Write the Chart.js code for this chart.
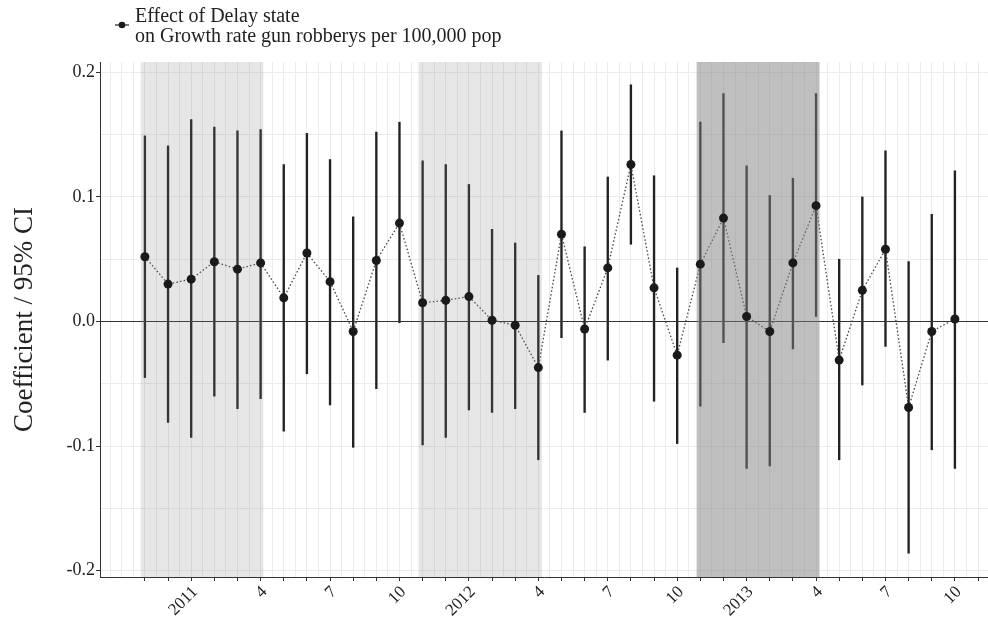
<!DOCTYPE html>
<html>
<head>
<meta charset="utf-8">
<script src="https://cdn.jsdelivr.net/npm/chart.js@4.4.1/dist/chart.umd.min.js"></script>
<style>
  html, body { margin: 0; padding: 0; background: #fff; overflow: hidden; }
</style>
</head>
<body>
<canvas id="coefChart" width="988" height="621"></canvas>
<script>
// Months on the x axis (index 0 = Nov 2010)
const months = [
  '2010-11', '2010-12',
  '2011-01', '2011-02', '2011-03', '2011-04', '2011-05', '2011-06',
  '2011-07', '2011-08', '2011-09', '2011-10', '2011-11', '2011-12',
  '2012-01', '2012-02', '2012-03', '2012-04', '2012-05', '2012-06',
  '2012-07', '2012-08', '2012-09', '2012-10', '2012-11', '2012-12',
  '2013-01', '2013-02', '2013-03', '2013-04', '2013-05', '2013-06',
  '2013-07', '2013-08', '2013-09', '2013-10'
];

// Point estimates
const coef = [
  0.052, 0.030, 0.034, 0.048, 0.042, 0.047, 0.019, 0.055, 0.032, -0.008,
  0.049, 0.079, 0.015, 0.017, 0.020, 0.001, -0.003, -0.037, 0.070, -0.006,
  0.043, 0.126, 0.027, -0.027, 0.046, 0.083, 0.004, -0.008, 0.047, 0.093,
  -0.031, 0.025, 0.058, -0.069, -0.008, 0.002
];

// 95% CI bounds
const ciLow = [
  -0.045, -0.081, -0.093, -0.060, -0.070, -0.062, -0.088, -0.042, -0.067, -0.101,
  -0.054, -0.001, -0.099, -0.093, -0.071, -0.073, -0.070, -0.111, -0.013, -0.073,
  -0.031, 0.062, -0.064, -0.098, -0.068, -0.017, -0.118, -0.116, -0.022, 0.004,
  -0.111, -0.051, -0.020, -0.186, -0.103, -0.118
];
const ciHigh = [
  0.149, 0.141, 0.162, 0.156, 0.153, 0.154, 0.126, 0.151, 0.130, 0.084,
  0.152, 0.160, 0.129, 0.126, 0.110, 0.074, 0.063, 0.037, 0.153, 0.060,
  0.116, 0.190, 0.117, 0.043, 0.160, 0.183, 0.125, 0.101, 0.115, 0.183,
  0.050, 0.100, 0.137, 0.048, 0.086, 0.121
];

// Shaded periods (in month-index units) and their fills
const shadeStart = [-0.18, 11.82, 23.84];
const shadeEnd = [5.12, 17.15, 29.15];
const shadeFill = ['rgba(128,128,128,0.2)', 'rgba(128,128,128,0.2)', 'rgba(128,128,128,0.5)'];

const legendLines = ['Effect of Delay state', 'on Growth rate gun robberys per 100,000 pop'];
const yTitle = 'Coefficient / 95% CI';

const FONT = "'Liberation Serif', 'Times New Roman', serif";

const xTicks = [];
for (let v = -1.5; v <= 36.01; v += 0.5) xTicks.push(v);
const yTicks = [-0.2, -0.15, -0.1, -0.05, 0, 0.05, 0.1, 0.15, 0.2];

function monthLabel(v) {
  if (!Number.isInteger(v) || v < 0 || v >= months.length) return '';
  const [yr, mo] = months[v].split('-');
  const m = parseInt(mo, 10);
  if (m === 1) return yr;
  if (m === 4 || m === 7 || m === 10) return String(m);
  return '';
}

// zero line after the error bars, shaded periods after the dotted line, legend last
const layersPlugin = {
  id: 'layers',
  afterDatasetDraw(chart, args) {
    const { ctx, chartArea } = chart;
    const x = chart.scales.x, y = chart.scales.y;
    if (args.index === 0) {
      const y0 = Math.round(y.getPixelForValue(0)) + 0.5;
      ctx.save();
      ctx.strokeStyle = '#333';
      ctx.lineWidth = 1.2;
      ctx.beginPath();
      ctx.moveTo(chartArea.left, y0);
      ctx.lineTo(chartArea.right, y0);
      ctx.stroke();
      ctx.restore();
    }
    if (args.index === 1) {
      ctx.save();
      shadeStart.forEach((s, i) => {
        const x0 = x.getPixelForValue(s);
        const x1 = x.getPixelForValue(shadeEnd[i]);
        ctx.fillStyle = shadeFill[i];
        ctx.fillRect(x0, chartArea.top, x1 - x0, chartArea.bottom - chartArea.top);
      });
      ctx.restore();
    }
  },
  afterDraw(chart) {
    const ctx = chart.ctx;
    ctx.save();
    ctx.strokeStyle = '#222';
    ctx.lineWidth = 1.2;
    ctx.beginPath();
    ctx.moveTo(115, 25);
    ctx.lineTo(129, 25);
    ctx.stroke();
    ctx.fillStyle = '#1a1a1a';
    ctx.beginPath();
    ctx.arc(122, 25, 3.3, 0, Math.PI * 2);
    ctx.fill();
    ctx.font = '20px ' + FONT;
    ctx.fillStyle = '#222';
    ctx.textBaseline = 'alphabetic';
    ctx.fillText(legendLines[0], 135, 21.5);
    ctx.fillText(legendLines[1], 135, 41.5);
    ctx.restore();
  }
};

const ctx = document.getElementById('coefChart').getContext('2d');
const chart = new Chart(ctx, {
  type: 'line',
  data: {
    datasets: [
      {
        type: 'bar',
        data: months.map((m, i) => ({ x: i, y: [ciLow[i], ciHigh[i]] })),
        backgroundColor: '#222',
        borderWidth: 0,
        barThickness: 1.7,
        order: 3
      },
      {
        data: months.map((m, i) => ({ x: i, y: coef[i] })),
        borderColor: '#444',
        borderWidth: 1.3,
        borderDash: [1.5, 2.2],
        pointRadius: 0,
        tension: 0,
        order: 2
      },
      {
        data: months.map((m, i) => ({ x: i, y: coef[i] })),
        showLine: false,
        pointRadius: 4.5,
        pointBackgroundColor: '#1a1a1a',
        pointBorderWidth: 0,
        order: 1
      }
    ]
  },
  options: {
    responsive: false,
    animation: false,
    layout: { autoPadding: false, padding: { top: 62, left: 0, right: 0, bottom: 0 } },
    plugins: { legend: { display: false }, tooltip: { enabled: false } },
    scales: {
      x: {
        type: 'linear',
        offset: false,
        min: -1.94,
        max: 36.43,
        afterBuildTicks: s => { s.ticks = xTicks.map(v => ({ value: v })); },
        afterFit: s => { s.height = 44; s.paddingLeft = 0; s.paddingRight = 0; },
        border: { display: true, color: '#333', width: 1 },
        grid: {
          offset: false,
          color: '#ececec',
          lineWidth: 1,
          drawTicks: true,
          tickLength: 4,
          tickColor: c => Number.isInteger(c.tick.value) && c.tick.value >= 0 ? '#333' : 'rgba(0,0,0,0)'
        },
        ticks: {
          autoSkip: false,
          minRotation: 45,
          maxRotation: 45,
          padding: 1,
          labelOffset: 4,
          color: '#222',
          font: { family: FONT, size: 17 },
          callback: v => monthLabel(v)
        }
      },
      y: {
        min: -0.2051,
        max: 0.2083,
        afterBuildTicks: s => { s.ticks = yTicks.map(v => ({ value: v })); },
        afterFit: s => { s.width = 100; },
        border: { display: true, color: '#333', width: 1 },
        grid: {
          color: '#ececec',
          lineWidth: 1,
          tickLength: 4,
          tickColor: c => Math.abs(c.tick.value * 10 - Math.round(c.tick.value * 10)) < 1e-6 ? '#333' : 'rgba(0,0,0,0)'
        },
        ticks: {
          padding: 1,
          color: '#222',
          font: { family: FONT, size: 18 },
          callback: v => Math.abs(v * 10 - Math.round(v * 10)) < 1e-6 ? v.toFixed(1) : ''
        },
        title: {
          display: true,
          text: yTitle,
          color: '#222',
          font: { family: FONT, size: 27 },
          padding: { top: 9, bottom: 0 }
        }
      }
    }
  },
  plugins: [layersPlugin]
});
</script>
</body>
</html>
